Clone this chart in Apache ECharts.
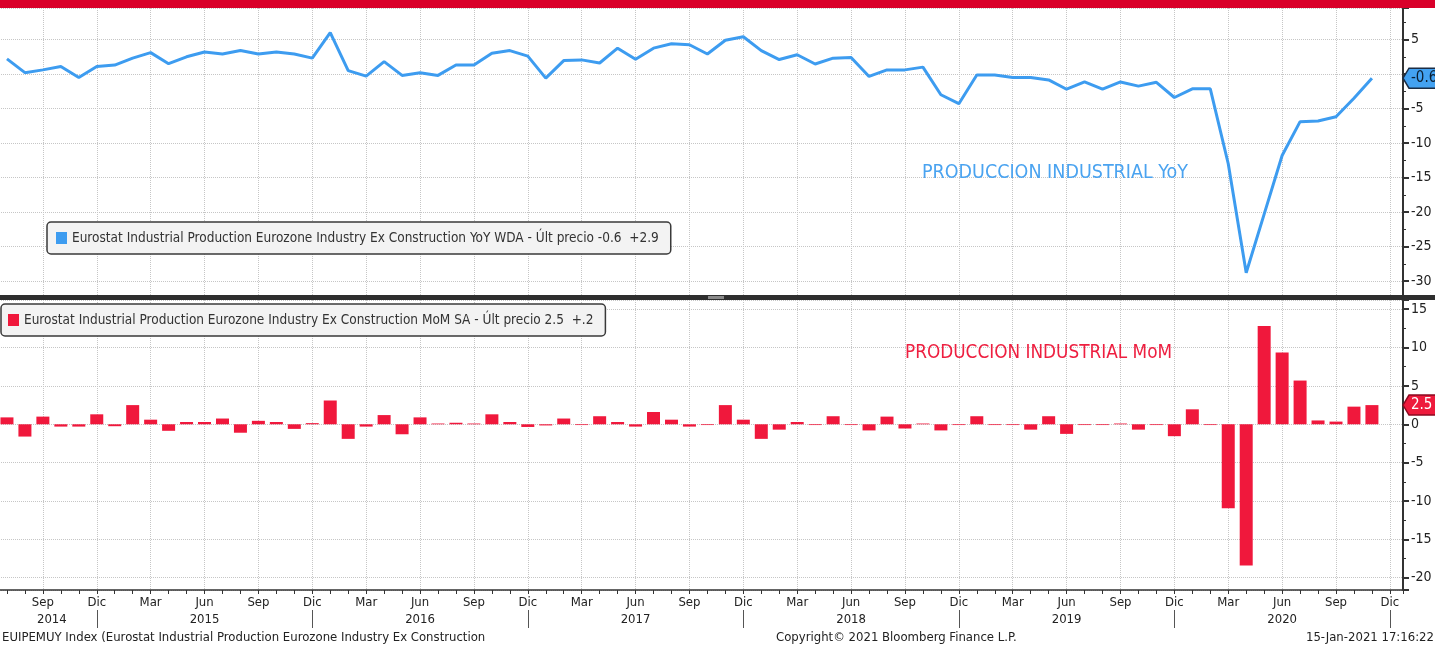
<!DOCTYPE html>
<html>
<head>
<meta charset="utf-8">
<script src="https://cdn.jsdelivr.net/npm/echarts@6/dist/echarts.min.js"></script>
<style>
html,body{margin:0;padding:0;background:#fff;}
#c{width:1435px;height:646px;}
</style>
</head>
<body>
<div id="c"></div>
<script>
// ---------- DATA ----------
const categories = [
  '2014-07','2014-08','2014-09','2014-10','2014-11','2014-12',
  '2015-01','2015-02','2015-03','2015-04','2015-05','2015-06','2015-07','2015-08','2015-09','2015-10','2015-11','2015-12',
  '2016-01','2016-02','2016-03','2016-04','2016-05','2016-06','2016-07','2016-08','2016-09','2016-10','2016-11','2016-12',
  '2017-01','2017-02','2017-03','2017-04','2017-05','2017-06','2017-07','2017-08','2017-09','2017-10','2017-11','2017-12',
  '2018-01','2018-02','2018-03','2018-04','2018-05','2018-06','2018-07','2018-08','2018-09','2018-10','2018-11','2018-12',
  '2019-01','2019-02','2019-03','2019-04','2019-05','2019-06','2019-07','2019-08','2019-09','2019-10','2019-11','2019-12',
  '2020-01','2020-02','2020-03','2020-04','2020-05','2020-06','2020-07','2020-08','2020-09','2020-10','2020-11','2020-12'
];
// Eurostat Industrial Production Eurozone Ex Construction YoY WDA (Jul 2014 - Nov 2020)
const yoy = [
  2.2, 0.2, 0.6, 1.1, -0.5, 1.1,
  1.3, 2.3, 3.1, 1.5, 2.5, 3.2, 2.9, 3.4, 2.9, 3.2, 2.9, 2.3,
  6.0, 0.5, -0.3, 1.8, -0.2, 0.2, -0.2, 1.3, 1.3, 3.0, 3.4, 2.6,
  -0.6, 1.95, 2.05, 1.6, 3.75, 2.15, 3.75, 4.4, 4.25, 2.9, 4.9, 5.4,
  3.4, 2.1, 2.8, 1.45, 2.3, 2.4, -0.35, 0.6, 0.6, 1.0, -3.0, -4.3,
  -0.15, -0.15, -0.5, -0.5, -0.85, -2.2, -1.15, -2.2, -1.15, -1.75, -1.2, -3.4,
  -2.15, -2.15, -13.0, -28.8, -20.3, -11.8, -6.9, -6.8, -6.2, -3.5, -0.6
];
// Eurostat Industrial Production Eurozone Ex Construction MoM SA (Jul 2014 - Nov 2020)
const mom = [
  0.9, -1.6, 1.0, -0.3, -0.3, 1.3,
  -0.25, 2.5, 0.6, -0.85, 0.3, 0.3, 0.75, -1.1, 0.45, 0.3, -0.6, 0.15,
  3.1, -1.9, -0.3, 1.2, -1.3, 0.9, 0.1, 0.2, 0.1, 1.3, 0.3, -0.35,
  -0.15, 0.75, -0.1, 1.05, 0.3, -0.3, 1.6, 0.6, -0.3, -0.1, 2.5, 0.6,
  -1.9, -0.7, 0.3, -0.1, 1.05, -0.1, -0.8, 1.0, -0.55, 0.1, -0.8, -0.1,
  1.05, -0.1, -0.1, -0.7, 1.05, -1.25, -0.1, -0.1, 0.1, -0.7, -0.1, -1.55,
  1.95, -0.1, -10.95, -18.4, 12.8, 9.35, 5.7, 0.5, 0.35, 2.3, 2.5
];
const monthTickLabels = { '03': 'Mar', '06': 'Jun', '09': 'Sep', '12': 'Dic' };
const yoyName = 'Eurostat Industrial Production Eurozone Industry Ex Construction YoY WDA';
const momName = 'Eurostat Industrial Production Eurozone Industry Ex Construction MoM SA';
const yoyLegendTail = ' - Últ precio -0.6  +2.9';
const momLegendTail = ' - Últ precio 2.5  +.2';
const yoyNote = 'PRODUCCION INDUSTRIAL YoY';
const momNote = 'PRODUCCION INDUSTRIAL MoM';
const footerLeft = 'EUIPEMUY Index (Eurostat Industrial Production Eurozone Industry Ex Construction';
const footerMid = 'Copyright\u00A9 2021 Bloomberg Finance L.P.';
const footerRight = '15-Jan-2021 17:16:22';

// ---------- STYLE ----------
const FONT = "'DejaVu Sans Condensed', 'Liberation Sans Narrow', sans-serif";
const BLUE = '#3d9cf0';
const RED = '#f0183c';
const GRIDC = '#c6c6c6';
const X_MIN = -3, X_MAX = 75.73; // axis value = month index - 2 (Sep 2014 = 0)

const xv = k => k - 2;
const monthFmt = v => {
  if (!Number.isInteger(v) || v < 0) return '';
  const c = categories[v + 2];
  return c ? (monthTickLabels[c.slice(5)] || '') : '';
};
const yearFmt = v => {
  if (v === 0.5) return categories[0].slice(0, 4);
  if (!Number.isInteger(v) || v < 0) return '';
  const c = categories[v + 2];
  return (c && c.slice(5) === '06') ? c.slice(0, 4) : '';
};
const yFmt = v => (Number.isInteger(v) && v % 5 === 0) ? String(v) : '';

const split = { show: true, lineStyle: { type: 'dotted', color: GRIDC, width: 1 } };

const chart = echarts.init(document.getElementById('c'), null, { renderer: 'canvas' });

const option = {
  animation: false,
  backgroundColor: '#ffffff',
  textStyle: { fontFamily: FONT },
  grid: [
    { left: -11, right: 32, top: 8, height: 288, containLabel: false, outerBoundsMode: 'none' },
    { left: -11, right: 32, top: 300, height: 290, containLabel: false, outerBoundsMode: 'none' }
  ],
  xAxis: [
    { gridIndex: 0, type: 'value', position: 'bottom', min: X_MIN, max: X_MAX, interval: 3,
      axisLine: { show: false }, axisTick: { show: false }, axisLabel: { show: false }, splitLine: split },
    { gridIndex: 1, type: 'value', position: 'bottom', min: X_MIN, max: X_MAX, interval: 3,
      axisLine: { show: true, onZero: false, lineStyle: { color: '#333', width: 1.5 } },
      axisTick: { show: true, length: 4, lineStyle: { color: '#333', width: 1 } },
      minorTick: { show: true, splitNumber: 3, length: 4, lineStyle: { color: '#333', width: 1 } },
      axisLabel: { show: true, formatter: monthFmt, fontSize: 13, color: '#222', margin: 6, fontFamily: FONT, showMinLabel: false, showMaxLabel: false },
      splitLine: split },
    { gridIndex: 1, type: 'value', position: 'bottom', offset: 0, min: X_MIN, max: X_MAX, interval: 0.5,
      axisLine: { show: false, onZero: false }, axisTick: { show: false }, splitLine: { show: false },
      axisLabel: { show: true, formatter: yearFmt, fontSize: 13, color: '#222', margin: 23, fontFamily: FONT } }
  ],
  yAxis: [
    { gridIndex: 0, type: 'value', position: 'right', min: -32.17, max: 9.57, splitNumber: 8,
      axisLine: { show: true, onZero: false, lineStyle: { color: '#333', width: 2 } },
      axisTick: { show: true, length: 6, lineStyle: { color: '#333', width: 2 } },
      minorTick: { show: true, splitNumber: 2, length: 3, lineStyle: { color: '#333', width: 1 } },
      axisLabel: { show: true, showMinLabel: false, showMaxLabel: false, formatter: yFmt, fontSize: 14, color: '#222', margin: 8, fontFamily: FONT },
      splitLine: split },
    { gridIndex: 1, type: 'value', position: 'right', min: -21.6, max: 16.2, splitNumber: 8,
      axisLine: { show: true, onZero: false, lineStyle: { color: '#333', width: 2 } },
      axisTick: { show: true, length: 6, lineStyle: { color: '#333', width: 2 } },
      minorTick: { show: true, splitNumber: 2, length: 3, lineStyle: { color: '#333', width: 1 } },
      axisLabel: { show: true, showMinLabel: false, showMaxLabel: false, formatter: yFmt, fontSize: 14, color: '#222', margin: 8, fontFamily: FONT },
      splitLine: split }
  ],
  legend: [
    { data: [yoyName], left: 47, top: 222, icon: 'rect', itemWidth: 11, itemHeight: 12, itemGap: 0,
      backgroundColor: '#f3f3f3', borderColor: '#3a3a3a', borderWidth: 1.5, borderRadius: 4,
      padding: [9, 12, 9, 9], selectedMode: false,
      formatter: n => n + yoyLegendTail,
      textStyle: { fontSize: 13.5, color: '#333', fontFamily: FONT } },
    { data: [momName], left: 1, top: 304, icon: 'rect', itemWidth: 11, itemHeight: 12, itemGap: 0,
      backgroundColor: '#f3f3f3', borderColor: '#3a3a3a', borderWidth: 1.5, borderRadius: 4,
      padding: [9, 12, 9, 7], selectedMode: false,
      formatter: n => n + momLegendTail,
      textStyle: { fontSize: 13.5, color: '#333', fontFamily: FONT } }
  ],
  series: [
    { type: 'line', name: yoyName, xAxisIndex: 0, yAxisIndex: 0,
      data: yoy.map((v, k) => [xv(k), v]),
      symbol: 'none', showSymbol: false, z: 3,
      lineStyle: { color: BLUE, width: 3 }, itemStyle: { color: BLUE } },
    { type: 'bar', name: momName, xAxisIndex: 1, yAxisIndex: 1,
      data: mom.map((v, k) => [xv(k), v]),
      barWidth: 13, itemStyle: { color: RED } }
  ]
};
chart.setOption(option);

// ---------- GRAPHIC OVERLAYS (positions from the library's scales) ----------
const els = [];
els.push({ type: 'rect', z: 100, shape: { x: 0, y: 0, width: 1435, height: 8 }, style: { fill: '#d9002a' } });
els.push({ type: 'rect', z: 100, shape: { x: 0, y: 295, width: 1435, height: 5 }, style: { fill: '#2e2e2e' } });
els.push({ type: 'rect', z: 101, shape: { x: 708, y: 296, width: 16, height: 3 }, style: { fill: '#8a8a8a' } });

els.push({ type: 'text', z: 100, x: 922, y: 173, style: { text: yoyNote, fill: '#4aa3f0', font: '19.5px ' + FONT, verticalAlign: 'middle', align: 'left' } });
els.push({ type: 'text', z: 100, x: 905, y: 353, style: { text: momNote, fill: '#ee1f40', font: '18.8px ' + FONT, verticalAlign: 'middle', align: 'left' } });

els.push({ type: 'text', z: 100, x: 2, y: 638, style: { text: footerLeft, fill: '#222', font: '13px ' + FONT, verticalAlign: 'middle', align: 'left' } });
els.push({ type: 'text', z: 100, x: 776, y: 638, style: { text: footerMid, fill: '#222', font: '13px ' + FONT, verticalAlign: 'middle', align: 'left' } });
els.push({ type: 'text', z: 100, x: 1434, y: 638, style: { text: footerRight, fill: '#222', font: '13px ' + FONT, verticalAlign: 'middle', align: 'right' } });

// year separators below December ticks
categories.forEach((c, k) => {
  if (c.slice(5) === '12') {
    const x = Math.round(chart.convertToPixel({ xAxisIndex: 1 }, xv(k))) + 0.5;
    els.push({ type: 'line', z: 100, shape: { x1: x, y1: 610, x2: x, y2: 628 }, style: { stroke: '#555', lineWidth: 1 } });
  }
});

// last-value tags
const lastYoy = yoy[yoy.length - 1];
const lastMom = mom[mom.length - 1];
const yT = chart.convertToPixel({ yAxisIndex: 0 }, lastYoy);
const yB = chart.convertToPixel({ yAxisIndex: 1 }, lastMom);
const tag = (y, fill, stroke, txt, tfill) => {
  els.push({ type: 'polygon', z: 110, shape: { points: [[1403, y], [1409, y - 10], [1436, y - 10], [1436, y + 10], [1409, y + 10]] },
    style: { fill: fill, stroke: stroke, lineWidth: 1.5 } });
  els.push({ type: 'text', z: 111, x: 1411, y: y, style: { text: txt, fill: tfill, font: '15px ' + FONT, verticalAlign: 'middle', align: 'left' } });
};
tag(yT, '#43a2f2', '#1b2d45', lastYoy.toFixed(1), '#0b1f33');
tag(yB, '#ee1a3c', '#8a0a20', lastMom.toFixed(1), '#ffffff');

chart.setOption({ graphic: { elements: els } });
</script>
</body>
</html>
